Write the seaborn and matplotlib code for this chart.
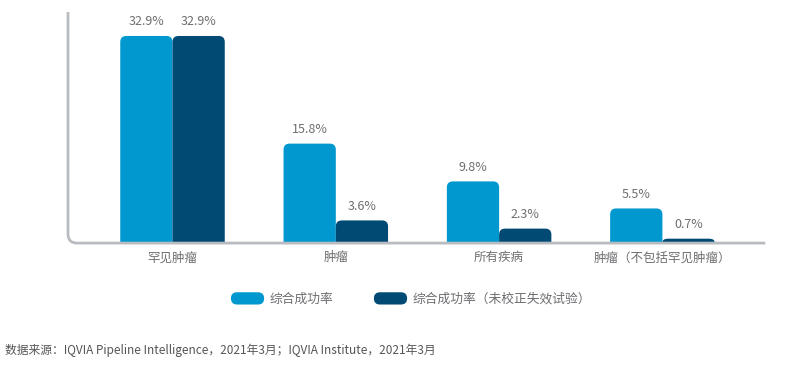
import pandas as pd
import matplotlib
matplotlib.use("Agg")
import matplotlib.pyplot as plt
import seaborn as sns
from matplotlib.path import Path
from matplotlib.patches import PathPatch, FancyBboxPatch, Patch
from matplotlib.legend_handler import HandlerPatch

# data
categories = ["罕见肿瘤", "肿瘤", "所有疾病", "肿瘤（不包括罕见肿瘤）"]
series = ["综合成功率", "综合成功率（未校正失效试验）"]
overall = [32.9, 15.8, 9.8, 5.5]
unadjusted = [32.9, 3.6, 2.3, 0.7]
colors = ["#0098ce", "#004a73"]
source = "数据来源：IQVIA Pipeline Intelligence，2021年3月；IQVIA Institute，2021年3月"

df = pd.DataFrame({
    "category": categories * 2,
    "series": [series[0]] * len(categories) + [series[1]] * len(categories),
    "value": overall + unadjusted,
})

sns.set_theme(style="white")
plt.rcParams["font.family"] = ["Noto Sans CJK SC", "DejaVu Sans"]

text_grey = "#6d6e71"

fig = plt.figure(figsize=(7.87, 3.65), dpi=100)
ax = fig.add_axes([0.0864, 0.334, 0.886, 0.633])
sns.barplot(data=df, x="category", y="value", hue="series", palette=colors,
            width=0.64, saturation=1, ax=ax, legend=False)
ax.set_xlim(-0.64, 3.63)
ax.set_ylim(0, 36.7)

# swap plain rectangles for bars with rounded tops
fig.canvas.draw()
bbox = ax.get_window_extent()
px_x = bbox.width / (ax.get_xlim()[1] - ax.get_xlim()[0])
px_y = bbox.height / (ax.get_ylim()[1] - ax.get_ylim()[0])
rad = 6
for p in list(ax.patches):
    x, y = p.get_x(), p.get_y()
    w, h = p.get_width(), p.get_height()
    if h <= 0:
        continue
    rx = rad / px_x
    ry = min(rad / px_y, h * 0.8)
    verts = [(x, y), (x, y + h - ry), (x, y + h), (x + rx, y + h),
             (x + w - rx, y + h), (x + w, y + h), (x + w, y + h - ry),
             (x + w, y), (x, y)]
    codes = [Path.MOVETO, Path.LINETO, Path.CURVE3, Path.CURVE3,
             Path.LINETO, Path.CURVE3, Path.CURVE3, Path.LINETO, Path.CLOSEPOLY]
    ax.add_patch(PathPatch(Path(verts, codes), facecolor=p.get_facecolor(),
                           edgecolor="none", zorder=2))
    ax.annotate(f"{h:.1f}%", (x + w / 2, y + h), xytext=(0, 5.5),
                textcoords="offset points", ha="center", va="bottom",
                fontsize=9, color=text_grey)
    p.remove()

# axis line with a rounded corner
for s in ax.spines.values():
    s.set_visible(False)
cx = 9 / bbox.width
cy = 9 / bbox.height
axis_path = Path([(0, 1), (0, cy), (0, 0), (cx, 0), (1, 0)],
                 [Path.MOVETO, Path.LINETO, Path.CURVE3, Path.CURVE3, Path.LINETO])
ax.add_patch(PathPatch(axis_path, transform=ax.transAxes, fill=False,
                       edgecolor="#b8bcc1", lw=2, clip_on=False, zorder=3))

ax.set_xlabel("")
ax.set_ylabel("")
ax.set_yticks([])
ax.tick_params(axis="x", length=0, pad=6, labelsize=9, labelcolor=text_grey)


class PillHandler(HandlerPatch):
    def create_artists(self, legend, orig_handle, xdescent, ydescent,
                       width, height, fontsize, trans):
        pill = FancyBboxPatch((-xdescent, -ydescent), width, height,
                              boxstyle=f"round,pad=0,rounding_size={height / 2}",
                              facecolor=orig_handle.get_facecolor(),
                              edgecolor="none", transform=trans)
        return [pill]


handles = [Patch(facecolor=c) for c in colors]
fig.legend(handles, series, handler_map={Patch: PillHandler()},
           loc="center", bbox_to_anchor=(0.522, 1 - 299 / 365), ncol=2,
           frameon=False, fontsize=9.2, labelcolor=text_grey,
           handlelength=2.6, handleheight=1.1, handletextpad=0.4,
           columnspacing=3.2)

fig.text(5 / 787, 1 - 350 / 365, source, fontsize=8.5, color="#555555",
         va="center", ha="left")

fig.savefig("out.png", dpi=100)
